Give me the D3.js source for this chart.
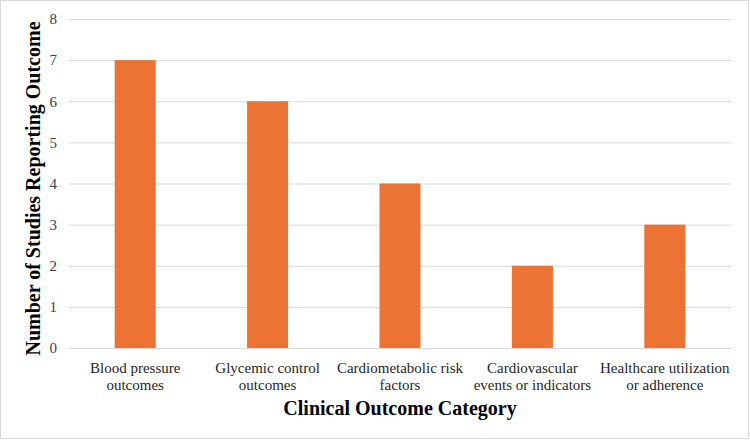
<!DOCTYPE html>
<html>
<head>
<meta charset="utf-8">
<script src="https://cdn.jsdelivr.net/npm/d3@7"></script>
<style>
  html, body { margin: 0; padding: 0; background: #fff; overflow: hidden; }
  svg { display: block; }
  text { font-family: "Liberation Serif", "Times New Roman", serif; fill: #000; }
  .tick text { font-size: 15px; fill: #404040; }
  .grid line { stroke: #d9d9d9; stroke-width: 1; }
  .grid path { display: none; }
  .axis-title { font-size: 20px; font-weight: bold; }
</style>
</head>
<body>
<div id="chart"></div>
<script>
const categories = [
    ["Blood pressure", "outcomes"],
    ["Glycemic control", "outcomes"],
    ["Cardiometabolic risk", "factors"],
    ["Cardiovascular", "events or indicators"],
    ["Healthcare utilization", "or adherence"]
];
const studyCounts = [7, 6, 4, 2, 3];
const yTicks = [0, 1, 2, 3, 4, 5, 6, 7, 8];

const width = 750;
const height = 440;
const margin = { top: 19, right: 19, bottom: 92, left: 69 };
const innerWidth = width - margin.left - margin.right;
const innerHeight = height - margin.top - margin.bottom;

const svg = d3.select("#chart")
    .append("svg")
    .attr("width", width)
    .attr("height", height);

// outer frame
svg.append("rect")
    .attr("x", 0.5)
    .attr("y", 0.5)
    .attr("width", width - 2)
    .attr("height", height - 2)
    .attr("fill", "#fff")
    .attr("stroke", "#d9d9d9");

const inner = svg.append("g")
    .attr("transform", `translate(${margin.left}, ${margin.top})`);

const labels = categories.map(c => c.join(" "));

const xScale = d3.scaleBand()
    .domain(labels)
    .range([0, innerWidth])
    .paddingInner(0.69)
    .paddingOuter(0.345);

const yScale = d3.scaleLinear()
    .domain([0, 8])
    .range([innerHeight, 0]);

// grid + y labels
const leftAxis = d3.axisLeft(yScale)
    .tickValues(yTicks)
    .tickSize(-innerWidth)
    .tickPadding(12)
    .tickFormat(d3.format("d"));

inner.append("g")
    .attr("class", "grid")
    .call(leftAxis);

inner.selectAll(".bar")
    .data(studyCounts)
    .join("rect")
    .attr("class", "bar")
    .attr("x", (d, i) => xScale(labels[i]))
    .attr("y", d => yScale(d))
    .attr("width", xScale.bandwidth())
    .attr("height", d => innerHeight - yScale(d))
    .attr("fill", "#EB7434");

// category labels, two lines each
const catLabels = inner.append("g")
    .selectAll("text")
    .data(categories)
    .join("text")
    .attr("text-anchor", "middle")
    .style("font-size", "15px")
    .style("fill", "#262626")
    .attr("transform", (d, i) =>
        `translate(${xScale(labels[i]) + xScale.bandwidth() / 2}, ${innerHeight + 25})`);

catLabels.append("tspan")
    .attr("x", 0)
    .attr("dy", 0)
    .text(d => d[0]);

catLabels.append("tspan")
    .attr("x", 0)
    .attr("dy", 17)
    .text(d => d[1]);

// axis titles
svg.append("text")
    .attr("class", "axis-title")
    .attr("text-anchor", "middle")
    .attr("x", margin.left + innerWidth / 2)
    .attr("y", 415)
    .text("Clinical Outcome Category");

svg.append("text")
    .attr("class", "axis-title")
    .attr("text-anchor", "middle")
    .attr("transform", `translate(40, ${margin.top + innerHeight / 2 + 5}) rotate(-90)`)
    .text("Number of Studies Reporting Outcome");
</script>
</body>
</html>
